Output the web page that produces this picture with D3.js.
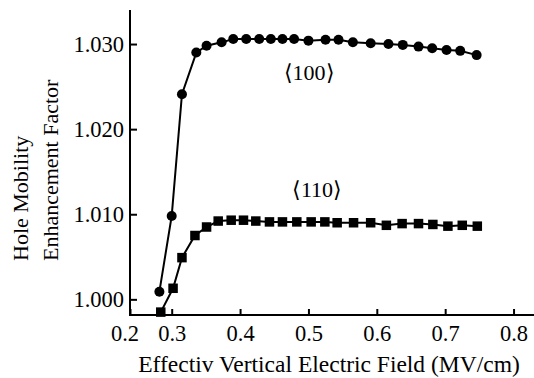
<!DOCTYPE html>
<html>
<head>
<meta charset="utf-8">
<script src="https://cdn.jsdelivr.net/npm/d3@7/dist/d3.min.js"></script>
<style>
  body { margin: 0; background: #fff; }
  .axis path, .axis line { stroke: #000; stroke-width: 2; }
</style>
</head>
<body>
<svg width="534" height="378"></svg>
<script>
// <100> series (circles)
var x100 = [0.282, 0.300, 0.315, 0.336, 0.351, 0.373, 0.390, 0.409, 0.428, 0.445, 0.462, 0.479,
            0.500, 0.525, 0.544, 0.565, 0.591, 0.617, 0.638, 0.661, 0.681, 0.702, 0.722, 0.746];
var y100 = [1.0009, 1.0098, 1.0241, 1.0290, 1.0298, 1.0302, 1.0306, 1.0306, 1.0306, 1.0306, 1.0306, 1.0306,
            1.0304, 1.0305, 1.0305, 1.0302, 1.0301, 1.0300, 1.0299, 1.0297, 1.0295, 1.0293, 1.0292, 1.0287];
// <110> series (squares)
var x110 = [0.284, 0.302, 0.315, 0.334, 0.351, 0.368, 0.387, 0.405, 0.423, 0.443, 0.462, 0.483,
            0.504, 0.524, 0.542, 0.566, 0.591, 0.614, 0.637, 0.661, 0.682, 0.704, 0.725, 0.747];
var y110 = [0.9985, 1.0013, 1.0049, 1.0075, 1.0085, 1.0092, 1.0093, 1.0093, 1.0092, 1.0091, 1.0091, 1.0091,
            1.0091, 1.0091, 1.0090, 1.0090, 1.0090, 1.0087, 1.0089, 1.0089, 1.0088, 1.0086, 1.0087, 1.0086];

var xTicks = [0.3, 0.4, 0.5, 0.6, 0.7, 0.8];
var yTicks = [1.000, 1.010, 1.020, 1.030];

var serif = "'Liberation Serif', 'Times New Roman', Times, serif";

var svg = d3.select("svg");

var x = d3.scaleLinear().domain([0.239, 0.827]).range([130, 532]);
var y = d3.scaleLinear().domain([0.99816, 1.034]).range([315, 10]);

var line = d3.line()
    .x(function(d) { return x(d[0]); })
    .y(function(d) { return y(d[1]); });

var d100 = x100.map(function(v, i) { return [v, y100[i]]; });
var d110 = x110.map(function(v, i) { return [v, y110[i]]; });

// axes
var xAxis = svg.append("g")
    .attr("class", "axis")
    .attr("transform", "translate(0,315)")
    .call(d3.axisBottom(x)
      .tickValues([x.domain()[0]].concat(xTicks))
      .tickFormat(function(d, i) { return i == 0 ? "0.2" : d3.format(".1f")(d); })
      .tickSizeInner(-6).tickSizeOuter(0).tickPadding(10.5));
xAxis.select(".domain").attr("d", "M130,0H534");
xAxis.selectAll(".tick").filter(function(d, i) { return i == 0; })
    .select("text").attr("dx", -5.5);

var yAxis = svg.append("g")
    .attr("class", "axis")
    .attr("transform", "translate(130,0)")
    .call(d3.axisLeft(y)
      .tickValues(yTicks)
      .tickFormat(d3.format(".3f"))
      .tickSizeInner(-7).tickSizeOuter(0).tickPadding(6));
yAxis.select(".domain").attr("d", "M0,10V316");

svg.selectAll(".axis").attr("font-family", null).attr("font-size", null);
svg.selectAll(".axis text")
    .style("font-family", serif)
    .style("font-size", "22.5px")
    .attr("fill", "#000");

// lines
svg.append("path").datum(d100)
    .attr("d", line).attr("fill", "none").attr("stroke", "#000").attr("stroke-width", 2);
svg.append("path").datum(d110)
    .attr("d", line).attr("fill", "none").attr("stroke", "#000").attr("stroke-width", 2);

svg.append("g").selectAll("circle")
    .data(d100).enter().append("circle")
    .attr("cx", function(d) { return x(d[0]); })
    .attr("cy", function(d) { return y(d[1]); })
    .attr("r", 5)
    .attr("fill", "#000");

svg.append("g").selectAll("rect")
    .data(d110).enter().append("rect")
    .attr("x", function(d) { return x(d[0]) - 4.75; })
    .attr("y", function(d) { return y(d[1]) - 4.75; })
    .attr("width", 9.5).attr("height", 9.5)
    .attr("fill", "#000");

// series labels
svg.append("text").attr("x", 309).attr("y", 80)
    .attr("text-anchor", "middle")
    .style("font-family", serif).style("font-size", "22px")
    .text("\u27E8100\u27E9");
svg.append("text").attr("x", 317).attr("y", 197)
    .attr("text-anchor", "middle")
    .style("font-family", serif).style("font-size", "22px")
    .text("\u27E8110\u27E9");

// axis titles
svg.append("text").attr("x", 329).attr("y", 372)
    .attr("text-anchor", "middle")
    .style("font-family", serif).style("font-size", "23.5px")
    .text("Effectiv Vertical Electric Field (MV/cm)");

var yt = svg.append("text")
    .attr("transform", "translate(0,261) rotate(-90)")
    .style("font-family", serif).style("font-size", "22px");
yt.append("tspan").attr("x", 0).attr("y", 28).text("Hole Mobility");
yt.append("tspan").attr("x", 0).attr("y", 58).text("Enhancement Factor");
</script>
</body>
</html>
